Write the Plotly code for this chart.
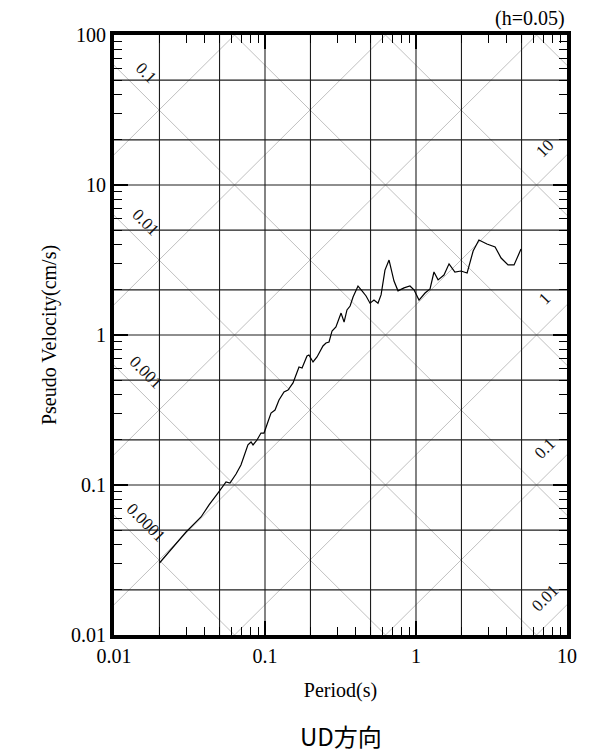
import math
import plotly.graph_objects as go

# ---------------- data ----------------
period = [0.020, 0.0238, 0.0300, 0.0377, 0.0426, 0.0489, 0.0552, 0.0586, 0.0643, 0.0693,
          0.0771, 0.0808, 0.0833, 0.0885, 0.0941, 0.0985, 0.1047, 0.1096, 0.1165, 0.1238,
          0.1336, 0.142, 0.1533, 0.1605, 0.168, 0.176, 0.1897, 0.1955, 0.208, 0.221,
          0.242, 0.2535, 0.2655, 0.278, 0.295, 0.319, 0.334, 0.349, 0.366, 0.383,
          0.413, 0.439, 0.467, 0.496, 0.527, 0.560, 0.587, 0.623, 0.663, 0.715,
          0.760, 0.833, 0.912, 0.970, 1.047, 1.148, 1.239, 1.315, 1.40, 1.532,
          1.655, 1.81, 1.986, 2.18, 2.39, 2.61, 2.95, 3.34, 3.66, 4.07,
          4.46, 4.96]
pseudo_velocity = [0.0302, 0.0369, 0.0486, 0.0612, 0.0736, 0.0885, 0.1047, 0.1031, 0.1184, 0.136,
                   0.185, 0.1936, 0.185, 0.1995, 0.222, 0.222, 0.263, 0.302, 0.316, 0.369,
                   0.417, 0.430, 0.479, 0.541, 0.612, 0.603, 0.724, 0.736, 0.661, 0.714,
                   0.845, 0.885, 0.898, 1.064, 1.13, 1.40, 1.22, 1.47, 1.56, 1.79,
                   2.12, 1.97, 1.82, 1.63, 1.71, 1.63, 1.85, 2.71, 3.16, 2.29,
                   1.97, 2.06, 2.12, 2.0, 1.71, 1.905, 2.03, 2.63, 2.33, 2.51,
                   2.98, 2.63, 2.67, 2.59, 3.63, 4.30, 4.04, 3.86, 3.26, 2.93,
                   2.93, 3.74]

x_ticks = [0.01, 0.1, 1, 10]
x_ticktext = ["0.01", "0.1", "1", "10"]
y_ticks = [0.01, 0.1, 1, 10, 100]
y_ticktext = ["0.01", "0.1", "1", "10", "100"]

x_grid = [0.02, 0.05, 0.1, 0.2, 0.5, 1, 2, 5]
y_grid = [0.02, 0.05, 0.1, 0.2, 0.5, 1, 2, 5, 10, 20, 50]

# displacement (cm) and acceleration (cm/s^2) diagonal levels
disp_levels = [1e-4, 1e-3, 1e-2, 1e-1, 1, 10, 100]
acc_levels = [1e-2, 1e-1, 1, 10, 100, 1e3, 1e4]
disp_labels = {1e-1: "0.1", 1e-2: "0.01", 1e-3: "0.001", 1e-4: "0.0001"}
acc_labels = {10: "10", 1: "1", 1e-1: "0.1", 1e-2: "0.01"}

x_range = [0.01, 10]
y_range = [0.01, 100]

SERIF = "Liberation Serif"
TWO_PI = 2 * math.pi

fig = go.Figure()

# diagonal lines (light gray)
dx, dy = [], []
for d in disp_levels:
    for T in (0.001, 100):
        dx.append(T)
        dy.append(TWO_PI * d / T)
    dx.append(None); dy.append(None)
for a in acc_levels:
    for T in (0.001, 100):
        dx.append(T)
        dy.append(a * T / TWO_PI)
    dx.append(None); dy.append(None)
fig.add_trace(go.Scatter(x=dx, y=dy, mode="lines", line=dict(color="#c0c0c0", width=1),
                         hoverinfo="skip", showlegend=False))

# grid lines
gx, gy = [], []
for v in x_grid:
    gx += [v, v, None]
    gy += [y_range[0], y_range[1], None]
for v in y_grid:
    gx += [x_range[0], x_range[1], None]
    gy += [v, v, None]
fig.add_trace(go.Scatter(x=gx, y=gy, mode="lines", line=dict(color="#1e1e1e", width=1.1),
                         hoverinfo="skip", showlegend=False))

# spectrum
fig.add_trace(go.Scatter(x=period, y=pseudo_velocity, mode="lines",
                         line=dict(color="black", width=1.2), showlegend=False))

# diagonal labels
LEFT_T = 0.0163
RIGHT_T = 7.1
annotations = []
for d, txt in disp_labels.items():
    sv = TWO_PI * d / LEFT_T
    annotations.append(dict(x=math.log10(LEFT_T), y=math.log10(sv), xref="x", yref="y",
                            text=txt, showarrow=False, textangle=45, yshift=25,
                            font=dict(family=SERIF, size=17, color="#111")))
for a, txt in acc_labels.items():
    sv = a * RIGHT_T / TWO_PI
    annotations.append(dict(x=math.log10(RIGHT_T), y=math.log10(sv), xref="x", yref="y",
                            text=txt, showarrow=False, textangle=-45, yshift=29,
                            font=dict(family=SERIF, size=17, color="#111")))

annotations.append(dict(x=1, y=1, xref="paper", yref="paper", xanchor="right", yanchor="bottom",
                        text="(h=0.05)", showarrow=False, yshift=3,
                        font=dict(family=SERIF, size=20, color="black")))
annotations.append(dict(x=0.5, y=-0.167, xref="paper", yref="paper", xanchor="center", yanchor="middle",
                        text="UD方向", showarrow=False,
                        font=dict(family="Noto Sans CJK JP", size=24, color="black")))


def minor_vals(lo_exp, hi_exp):
    vals = []
    for e in range(lo_exp, hi_exp):
        for m in range(2, 10):
            vals.append(m * 10 ** e)
    return vals


axis_common = dict(type="log", showline=True, linewidth=4, linecolor="black", mirror="allticks",
                   ticks="inside", ticklen=14, tickwidth=2, tickcolor="black",
                   showgrid=False, zeroline=False,
                   tickfont=dict(family=SERIF, size=20, color="black"))

fig.update_layout(
    width=594, height=756,
    margin=dict(l=114, r=27, t=35, b=121),
    paper_bgcolor="white", plot_bgcolor="white",
    xaxis=dict(range=[math.log10(x_range[0]), math.log10(x_range[1])],
               tickvals=x_ticks, ticktext=x_ticktext,
               minor=dict(tickvals=minor_vals(-2, 1), ticks="inside", ticklen=8, tickwidth=1,
                          tickcolor="black", showgrid=False),
               title=dict(text="Period(s)", font=dict(family=SERIF, size=20, color="black"), standoff=18),
               **axis_common),
    yaxis=dict(range=[math.log10(y_range[0]), math.log10(y_range[1])],
               tickvals=y_ticks, ticktext=y_ticktext,
               minor=dict(tickvals=minor_vals(-2, 2), ticks="inside", ticklen=8, tickwidth=1,
                          tickcolor="black", showgrid=False),
               title=dict(text="Pseudo Velocity(cm/s)", font=dict(family=SERIF, size=20, color="black"), standoff=10),
               **axis_common),
    annotations=annotations,
    showlegend=False,
)

fig.write_html("out.html", config={"displayModeBar": False},
               post_script="document.body.style.margin='0';document.body.style.padding='0';")
